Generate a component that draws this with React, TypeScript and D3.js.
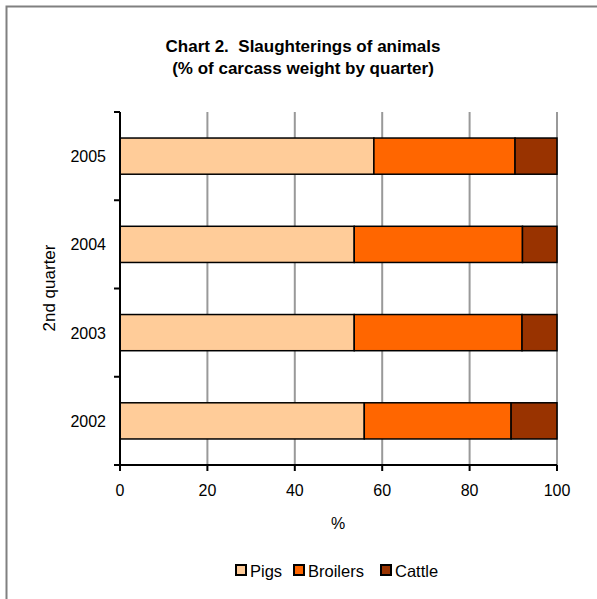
import React from "react";
import * as d3 from "d3";

const years = ["2002", "2003", "2004", "2005"];
const pigs = [55.9, 53.6, 53.6, 58.1];
const broilers = [33.6, 38.4, 38.5, 32.3];
const cattle = [10.5, 8.0, 7.9, 9.6];
const seriesNames = ["Pigs", "Broilers", "Cattle"];
const seriesColors = ["#FFCC99", "#FF6600", "#993300"];
const xTicks = [0, 20, 40, 60, 80, 100];

export default function App() {
  const W = 597, H = 599;
  const left = 120, right = 557, top = 112, bottom = 465;
  const x = d3.scaleLinear().domain([0, 100]).range([left, right]);
  const yOrder = [...years].reverse();
  const y = d3.scaleBand().domain(yOrder).range([top, bottom]).paddingInner(0.59).paddingOuter(0.295);
  const rows = years.map((yr, i) => ({ yr, Pigs: pigs[i], Broilers: broilers[i], Cattle: cattle[i] }));
  const stack = d3.stack<any>().keys(seriesNames)(rows);
  const step = (bottom - top) / years.length;
  const font = "Arial, 'Liberation Sans', sans-serif";
  const legendX = [236, 294, 381];
  return (
    <svg width={W} height={H} style={{ position: "absolute", left: 0, top: 0 }} fontFamily={font}>
      <rect x={0} y={0} width={W} height={H} fill="#fff" />
      <path d={`M6.5,${H} V6.5 H${W}`} fill="none" stroke="#808080" strokeWidth={2} />
      <text x={303} y={52} textAnchor="middle" fontSize={17} fontWeight="bold" style={{ whiteSpace: "pre" }}>{"Chart 2.  Slaughterings of animals"}</text>
      <text x={303} y={74} textAnchor="middle" fontSize={17} fontWeight="bold">(% of carcass weight by quarter)</text>
      {xTicks.slice(1).map(t => (
        <line key={t} x1={x(t)} x2={x(t)} y1={top} y2={bottom} stroke="#999" strokeWidth={2} />
      ))}
      {stack.map((s, si) => s.map((d, i) => (
        <rect key={si + "-" + i} x={x(d[0])} y={y(years[i])!} width={x(d[1]) - x(d[0])} height={y.bandwidth()}
          fill={seriesColors[si]} stroke="#000" strokeWidth={1.5} />
      )))}
      <line x1={left} x2={left} y1={top} y2={bottom + 6} stroke="#000" strokeWidth={2} />
      <line x1={left - 6} x2={right} y1={bottom} y2={bottom} stroke="#000" strokeWidth={2} />
      {d3.range(years.length + 1).map(i => (
        <line key={i} x1={left - 6} x2={left} y1={top + i * step} y2={top + i * step} stroke="#000" strokeWidth={2} />
      ))}
      {xTicks.map(t => (
        <g key={t}>
          <line x1={x(t)} x2={x(t)} y1={bottom} y2={bottom + 6} stroke="#000" strokeWidth={2} />
          <text x={x(t)} y={496} textAnchor="middle" fontSize={16}>{t}</text>
        </g>
      ))}
      {years.map(yr => (
        <text key={yr} x={106} y={y(yr)! + y.bandwidth() / 2 + 6} textAnchor="end" fontSize={16}>{yr}</text>
      ))}
      <text transform={`translate(55,288) rotate(-90)`} textAnchor="middle" fontSize={17}>2nd quarter</text>
      <text x={338} y={529} textAnchor="middle" fontSize={16}>%</text>
      {seriesNames.map((n, i) => (
        <g key={n}>
          <rect x={legendX[i]} y={565} width={10} height={10} fill={seriesColors[i]} stroke="#000" strokeWidth={2} />
          <text x={legendX[i] + 14} y={577} fontSize={16.5}>{n}</text>
        </g>
      ))}
    </svg>
  );
}
